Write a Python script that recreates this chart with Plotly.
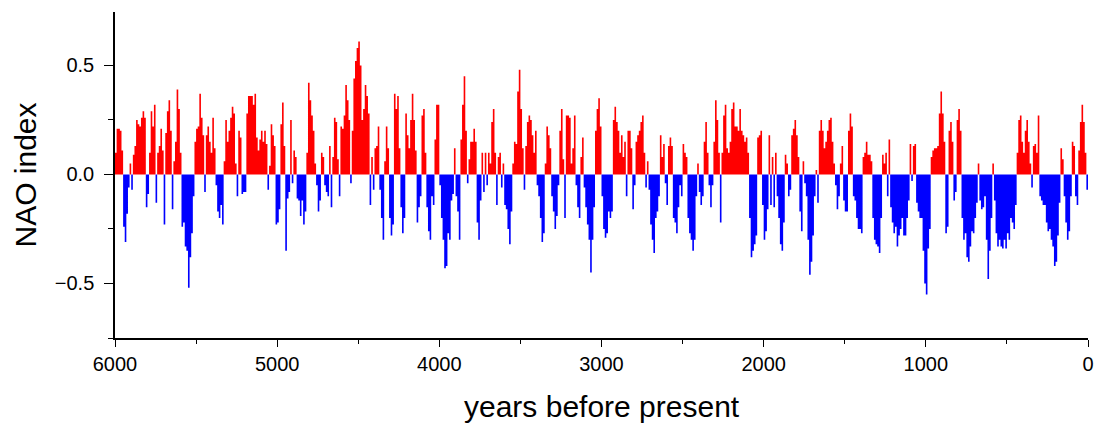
import plotly.graph_objects as go

# NAO index reconstruction, 10-year bins from 6000 to 0 years before present
nao_6000_5000 = [
    0.10, 0.21, 0.21, 0.20, 0.11, -0.24, -0.31, -0.18, -0.06, 0.05,
    -0.07, 0.09, 0.13, 0.25, 0.23, 0.22, 0.26, 0.29, 0.26, -0.15,
    -0.09, 0.10, 0.29, 0.22, 0.32, -0.13, 0.10, 0.13, 0.21, 0.11,
    -0.23, 0.19, 0.29, 0.34, 0.20, -0.16, 0.06, 0.15, 0.39, 0.30,
    0.10, -0.24, -0.22, -0.33, -0.35, -0.52, -0.38, -0.27, -0.10, 0.15,
    0.21, 0.22, 0.37, 0.26, 0.18, -0.08, 0.18, 0.22, 0.15, 0.10,
    0.26, 0.12, -0.05, -0.17, -0.20, -0.14, -0.23, 0.06, 0.25, 0.15,
    0.20, 0.26, 0.31, 0.28, 0.05, -0.10, 0.20, 0.17, -0.09, -0.08,
    -0.08, 0.28, 0.36, 0.36, 0.36, 0.32, 0.37, 0.17, 0.11, 0.16,
    0.20, 0.15, 0.20, 0.14, -0.07, 0.04, 0.23, 0.18, 0.13, -0.23,
]
nao_5000_4000 = [
    -0.22, -0.16, 0.23, 0.33, 0.13, -0.35, -0.11, -0.08, 0.25, -0.04,
    0.11, 0.08, -0.11, -0.12, -0.19, -0.12, -0.23, -0.17, 0.10, 0.42,
    0.34, 0.27, 0.20, 0.05, -0.05, -0.17, -0.12, 0.10, 0.08, -0.05,
    -0.08, -0.10, 0.13, -0.15, 0.08, 0.26, 0.24, 0.07, -0.10, 0.22,
    0.21, 0.27, 0.41, 0.34, 0.25, -0.04, 0.20, 0.44, 0.52, 0.58,
    0.61, 0.50, 0.25, 0.30, 0.41, 0.36, 0.28, -0.14, 0.08, -0.07,
    0.12, 0.13, 0.22, -0.07, -0.20, -0.30, 0.06, 0.22, 0.12, -0.20,
    -0.28, -0.23, 0.37, 0.30, 0.36, 0.12, -0.15, -0.27, -0.20, 0.28,
    0.18, 0.12, 0.25, 0.37, 0.25, 0.11, -0.22, -0.15, -0.10, 0.27,
    0.30, 0.10, -0.15, -0.26, -0.30, -0.10, -0.14, 0.16, 0.32, 0.32,
]
nao_4000_3000 = [
    -0.05, -0.20, -0.30, -0.43, -0.42, -0.27, -0.30, -0.12, -0.09, 0.12,
    -0.10, -0.17, -0.30, 0.16, 0.32, 0.45, 0.20, -0.04, 0.07, 0.15,
    0.15, 0.21, 0.15, -0.22, -0.30, -0.12, 0.10, -0.08, 0.10, -0.05,
    0.10, 0.05, 0.24, 0.30, 0.10, -0.14, 0.08, 0.10, -0.06, 0.05,
    -0.14, -0.16, -0.25, -0.32, -0.17, 0.05, 0.15, 0.14, 0.38, 0.48,
    0.30, 0.12, -0.07, 0.13, 0.24, 0.27, 0.25, 0.18, 0.10, 0.20,
    -0.05, -0.10, -0.20, -0.31, -0.27, 0.05, 0.22, 0.18, 0.12, -0.10,
    -0.17, -0.25, -0.19, -0.05, 0.20, 0.30, 0.07, -0.20, 0.27, 0.27,
    0.26, 0.05, 0.12, 0.27, -0.05, -0.15, -0.20, 0.08, 0.17, -0.06,
    -0.15, -0.23, -0.30, -0.45, -0.30, -0.15, 0.20, 0.30, 0.35, 0.22,
]
nao_3000_2000 = [
    -0.10, -0.25, -0.29, -0.27, -0.17, -0.20, -0.17, 0.25, 0.31, 0.24,
    0.20, 0.10, 0.18, 0.08, 0.15, -0.10, 0.20, 0.20, 0.12, -0.16,
    -0.05, 0.15, 0.18, 0.20, 0.24, 0.27, 0.10, -0.06, 0.06, -0.07,
    -0.23, -0.30, -0.36, -0.20, -0.17, -0.10, 0.18, 0.08, 0.14, -0.04,
    -0.14, 0.13, 0.17, 0.13, -0.20, -0.22, -0.27, -0.15, -0.05, -0.10,
    0.14, 0.10, 0.08, -0.20, -0.27, -0.30, -0.35, -0.30, -0.10, 0.05,
    -0.08, -0.14, -0.10, 0.15, 0.24, 0.10, -0.05, -0.15, -0.05, 0.15,
    0.34, 0.25, 0.10, -0.22, 0.10, 0.27, 0.32, 0.12, 0.10, 0.15,
    0.30, 0.33, 0.22, 0.22, 0.20, 0.30, 0.20, 0.18, 0.15, 0.17,
    0.10, -0.20, -0.38, -0.35, -0.32, -0.28, 0.17, 0.18, 0.20, -0.14,
]
nao_2000_1000 = [
    -0.30, -0.26, -0.16, 0.18, -0.14, 0.08, -0.15, 0.10, -0.10, -0.20,
    -0.32, -0.35, -0.22, 0.09, 0.05, -0.10, -0.07, 0.18, 0.21, 0.25,
    0.18, 0.08, -0.17, -0.26, 0.06, -0.04, -0.10, -0.30, -0.46, -0.40,
    -0.28, -0.10, 0.02, -0.13, 0.20, 0.25, 0.20, 0.12, 0.15, 0.20,
    0.25, 0.26, 0.15, 0.05, -0.05, -0.16, -0.10, 0.05, 0.13, -0.12,
    -0.17, -0.17, 0.20, 0.28, 0.22, -0.10, -0.12, -0.20, -0.25, -0.25,
    -0.27, 0.08, 0.10, 0.15, 0.09, 0.09, 0.06, -0.20, -0.30, -0.32,
    -0.33, -0.36, -0.20, 0.09, 0.05, 0.10, -0.10, 0.16, -0.15, -0.22,
    -0.27, -0.24, -0.33, -0.28, -0.25, -0.20, -0.28, -0.28, -0.20, -0.12,
    0.14, -0.03, 0.13, 0.14, -0.13, -0.17, -0.20, -0.20, -0.35, -0.50,
]
nao_1000_0 = [
    -0.55, -0.34, -0.25, 0.08, 0.11, 0.12, 0.12, 0.13, 0.28, 0.38,
    0.28, 0.15, -0.27, -0.24, 0.20, 0.24, 0.15, -0.12, -0.08, 0.25,
    0.30, 0.20, -0.20, -0.30, -0.27, -0.38, -0.40, -0.33, -0.26, -0.27,
    -0.20, -0.13, 0.05, -0.12, -0.16, -0.15, -0.10, -0.30, -0.48, -0.35,
    -0.20, 0.05, -0.12, -0.27, -0.33, -0.30, -0.33, -0.34, -0.30, -0.34,
    -0.27, -0.30, -0.20, -0.22, -0.25, -0.14, 0.10, 0.25, 0.27, 0.15,
    0.10, 0.20, 0.25, 0.15, 0.05, -0.06, 0.13, 0.14, 0.10, 0.27,
    -0.10, -0.12, -0.14, -0.14, -0.22, -0.26, -0.25, -0.30, -0.33, -0.42,
    -0.40, -0.28, -0.13, 0.12, 0.07, -0.10, -0.22, -0.30, -0.26, -0.10,
    0.15, 0.13, -0.10, -0.14, 0.11, 0.24, 0.32, 0.24, 0.10, -0.07,
]

nao = (nao_6000_5000 + nao_5000_4000 + nao_4000_3000 +
       nao_3000_2000 + nao_2000_1000 + nao_1000_0)
bin_years = 10
start_year = 6000

x_ticks = [6000, 5000, 4000, 3000, 2000, 1000, 0]
x_ticktext = ["6000", "5000", "4000", "3000", "2000", "1000", "0"]
y_ticks = [-0.5, 0.0, 0.5]
y_ticktext = ["\u22120.5", "0.0", "0.5"]

# step edges: each bin starts at its older edge; final point closes the last bin
edges = [start_year - bin_years * i for i in range(len(nao) + 1)]
pos = [max(v, 0.0) for v in nao] + [max(nao[-1], 0.0)]
neg = [min(v, 0.0) for v in nao] + [min(nao[-1], 0.0)]

fig = go.Figure()
fig.add_trace(go.Scatter(
    x=edges, y=pos, mode="lines", line=dict(shape="hv", width=0, color="#ff0000"),
    fill="tozeroy", fillcolor="#ff0000", showlegend=False, hoverinfo="skip",
))
fig.add_trace(go.Scatter(
    x=edges, y=neg, mode="lines", line=dict(shape="hv", width=0, color="#0000ff"),
    fill="tozeroy", fillcolor="#0000ff", showlegend=False, hoverinfo="skip",
))

font_family = "Liberation Sans, Arial, sans-serif"
tick_font = dict(family=font_family, size=20, color="black")
title_font = dict(family=font_family, size=30, color="black")

fig.update_layout(
    width=1106, height=423,
    margin=dict(l=115, r=13, t=12, b=85),
    paper_bgcolor="white", plot_bgcolor="white",
    xaxis=dict(
        range=[6000, 0], tickmode="array", tickvals=x_ticks, ticktext=x_ticktext,
        ticks="outside", ticklen=7, tickwidth=1, tickcolor="black",
        showline=True, linecolor="black", linewidth=1.5,
        showgrid=False, zeroline=False, tickfont=tick_font,
        minor=dict(ticks="outside", ticklen=4, tickwidth=1, tickcolor="black",
                   tickvals=[5500, 4500, 3500, 2500, 1500, 500], showgrid=False),
    ),
    yaxis=dict(
        range=[-0.75, 0.745], tickmode="array", tickvals=y_ticks, ticktext=y_ticktext,
        ticks="outside", ticklen=9, tickwidth=1, tickcolor="black",
        showline=True, linecolor="black", linewidth=1.5,
        showgrid=False, zeroline=False, tickfont=tick_font,
        ticklabelstandoff=6,
        minor=dict(ticks="outside", ticklen=5, tickwidth=1, tickcolor="black",
                   tickvals=[-0.75, -0.25, 0.25, 0.75], showgrid=False),
    ),
    annotations=[
        dict(text="NAO index", xref="paper", yref="paper", x=-0.093, y=0.5,
             xanchor="center", yanchor="middle", textangle=-90, showarrow=False,
             font=title_font),
        dict(text="years before present", xref="paper", yref="paper", x=0.5, y=-0.209,
             xanchor="center", yanchor="middle", showarrow=False,
             font=title_font),
    ],
)

fig.write_html("out.html")
